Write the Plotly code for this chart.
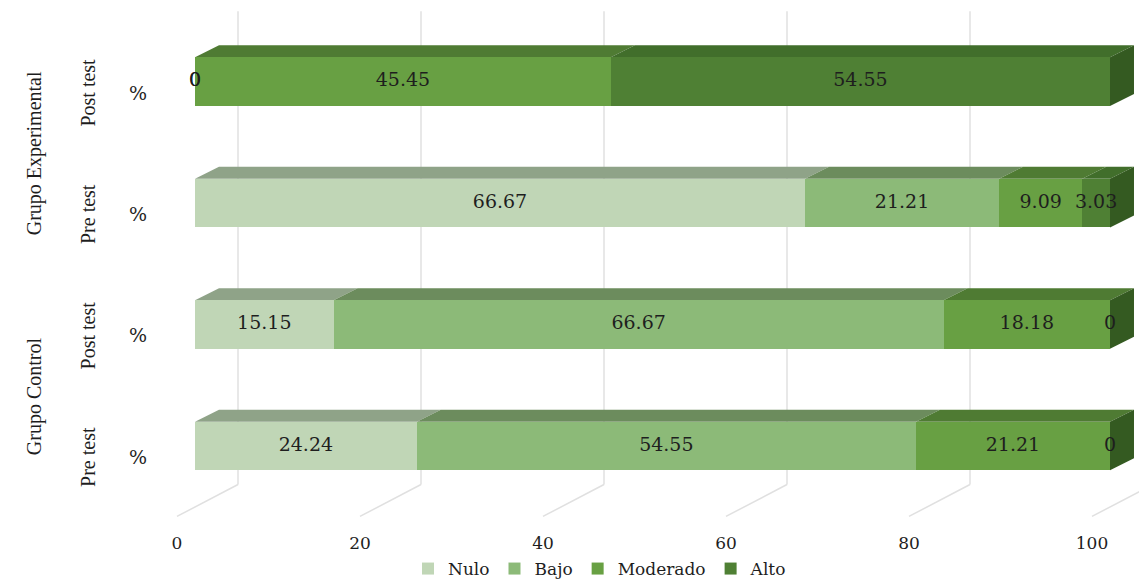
import plotly.graph_objects as go

# ---------------- data ----------------
groups = ["Grupo Control", "Grupo Control", "Grupo Experimental", "Grupo Experimental"]
tests = ["Pre test", "Post test", "Pre test", "Post test"]
row_unit = ["%", "%", "%", "%"]
levels = ["Nulo", "Bajo", "Moderado", "Alto"]
nulo = [24.24, 15.15, 66.67, 0]
bajo = [54.55, 66.67, 21.21, 0]
moderado = [21.21, 18.18, 9.09, 45.45]
alto = [0, 0, 3.03, 54.55]
x_ticks = [0, 20, 40, 60, 80, 100]

series = [nulo, bajo, moderado, alto]
rows = list(range(len(tests)))

# ---------------- style ----------------
front_col = ["#c0d6b6", "#8cba78", "#68a043", "#4f8034"]
top_col = ["#8fa388", "#6c8c5d", "#4f7b33", "#416e2b"]
side_col = "#345a21"
grid_col = "#e0e0e0"
text_col = "#1e1e1e"

FIG_W, FIG_H = 1140, 582
L, R, T, B = 167, 1, 10, 51
XR = [-3.06, 103.17]
YR = [-0.70, 3.59]
PW = FIG_W - L - R
PH = FIG_H - T - B
PXX = PW / (XR[1] - XR[0])
PXY = PH / (YR[1] - YR[0])

BAR_W = 0.4
DX = 24 / PXX          # depth offset of bar top/side faces
DY = 12 / PXY
WALL_DX = 43 / PXX      # back wall offset
FLOOR_BACK_Y = -0.317
FLOOR_FRONT_Y = -0.58
FRONT_DX = -18 / PXX
GRID_TOP = 3.58
LABEL_DY = -0.09


def paper_x(px):
    return (px - L) / PW


def paper_y(py):
    return 1 - (py - T) / PH


fig = go.Figure()

# stacked front faces
for name, vals, col in zip(levels, series, front_col):
    fig.add_trace(go.Bar(
        name=name, y=rows, x=vals, orientation="h", width=BAR_W,
        marker=dict(color=col, line=dict(width=0)),
        hoverinfo="x+name",
    ))

shapes = []
# back wall gridlines + floor lines
for v in x_ticks:
    shapes.append(dict(type="line", xref="x", yref="y", layer="below",
                       x0=v + WALL_DX, x1=v + WALL_DX, y0=FLOOR_BACK_Y, y1=GRID_TOP,
                       line=dict(color=grid_col, width=1.5)))
    shapes.append(dict(type="line", xref="x", yref="y", layer="below",
                       x0=v + WALL_DX, x1=v + FRONT_DX, y0=FLOOR_BACK_Y, y1=FLOOR_FRONT_Y,
                       line=dict(color=grid_col, width=1.5)))

# top faces / side face + data labels
lab_x, lab_y, lab_t = [], [], []
for i in rows:
    start = 0.0
    yt = i + BAR_W / 2
    yb = i - BAR_W / 2
    for k, vals in enumerate(series):
        v = vals[i]
        end = start + v
        if v > 0:
            path = (f"M {start},{yt} L {end},{yt} L {end + DX},{yt + DY} "
                    f"L {start + DX},{yt + DY} Z")
            shapes.append(dict(type="path", path=path, xref="x", yref="y",
                               fillcolor=top_col[k], line=dict(width=0), layer="between"))
        lab_x.append(start + v / 2)
        lab_y.append(i)
        lab_t.append(f"{v:g}")
        start = end
    # side face at the end of the stack
    path = (f"M {start},{yt} L {start + DX},{yt + DY} L {start + DX},{yb + DY} "
            f"L {start},{yb} Z")
    shapes.append(dict(type="path", path=path, xref="x", yref="y",
                       fillcolor=side_col, line=dict(width=0), layer="between"))

fig.add_trace(go.Scatter(
    x=lab_x, y=lab_y, text=lab_t, mode="text", showlegend=False,
    textfont=dict(family="DejaVu Serif", size=19, color=text_col),
    hoverinfo="skip", cliponaxis=False,
))
# dummy trace on the tick-label axis
fig.add_trace(go.Scatter(x=[None], y=[None], xaxis="x2", yaxis="y",
                         showlegend=False, hoverinfo="skip"))

annotations = []
for i in rows:
    annotations.append(dict(xref="paper", yref="y", x=paper_x(138), y=i + LABEL_DY,
                            xanchor="center", yanchor="middle",
                            text=row_unit[i], showarrow=False,
                            font=dict(family="DejaVu Serif", size=19, color=text_col)))
    annotations.append(dict(xref="paper", yref="y", x=paper_x(88), y=i + LABEL_DY,
                            xanchor="center", yanchor="middle",
                            text=tests[i], showarrow=False, textangle=-90,
                            font=dict(family="Liberation Serif", size=20, color=text_col)))
for g in dict.fromkeys(groups):
    idx = [i for i in rows if groups[i] == g]
    annotations.append(dict(xref="paper", yref="y", x=paper_x(34),
                            y=sum(idx) / len(idx) + LABEL_DY,
                            xanchor="center", yanchor="middle",
                            text=g, showarrow=False, textangle=-90,
                            font=dict(family="Liberation Serif", size=20, color=text_col)))

shift = -FRONT_DX
fig.update_layout(
    width=FIG_W, height=FIG_H,
    margin=dict(l=L, r=R, t=T, b=B, autoexpand=False),
    barmode="stack",
    plot_bgcolor="white", paper_bgcolor="white",
    xaxis=dict(range=XR, showticklabels=False, showgrid=False, zeroline=False,
               showline=False, fixedrange=True, automargin=False),
    xaxis2=dict(range=[XR[0] + shift, XR[1] + shift], overlaying="x", anchor="y",
                side="bottom", tickvals=x_ticks, showgrid=False, zeroline=False,
                showline=False, ticks="", automargin=False,
                tickfont=dict(family="DejaVu Serif", size=17, color=text_col)),
    yaxis=dict(range=YR, showticklabels=False, showgrid=False, zeroline=False,
               showline=False, fixedrange=True, automargin=False),
    shapes=shapes,
    annotations=annotations,
    showlegend=True,
    legend=dict(orientation="h", x=paper_x(600), xanchor="center",
                y=paper_y(569), yanchor="middle", traceorder="normal",
                itemwidth=30, font=dict(family="DejaVu Serif", size=17, color=text_col),
                bgcolor="rgba(0,0,0,0)"),
)

fig.write_html("out.html")
